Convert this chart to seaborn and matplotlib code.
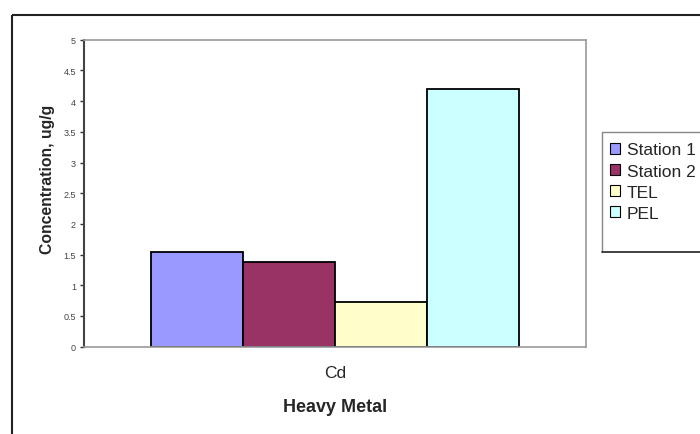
import matplotlib
matplotlib.use("Agg")
import matplotlib.pyplot as plt
from matplotlib.patches import Rectangle, Patch
from matplotlib.lines import Line2D
from matplotlib.ticker import FixedLocator, FuncFormatter
import seaborn as sns
import pandas as pd

# Cadmium concentrations and sediment quality guidelines (ug/g)
metals = ["Cd"]
series = ["Station 1", "Station 2", "TEL", "PEL"]
values = [1.55, 1.38, 0.73, 4.20]
colors = ["#9999FF", "#993366", "#FFFFCC", "#CCFFFF"]
yticks = [0, 0.5, 1, 1.5, 2, 2.5, 3, 3.5, 4, 4.5, 5]

df = pd.DataFrame({
    "metal": metals * len(series),
    "series": series,
    "value": values,
})

sns.set_theme(style="white")
plt.rcParams["font.family"] = ["Liberation Sans", "DejaVu Sans"]

W, H = 700, 435
fig = plt.figure(figsize=(W / 100, H / 100), dpi=100)
ax = fig.add_axes([84.3 / W, 1 - 347.7 / H, (586 - 84.3) / W, (347.7 - 40.7) / H])

sns.barplot(data=df, x="metal", y="value", hue="series", hue_order=series,
            palette=colors, width=0.734, dodge=True, legend=False,
            edgecolor="black", linewidth=1.3, saturation=1, ax=ax)

ax.set_xlim(-0.5, 0.5)
ax.set_ylim(0, 5)
ax.yaxis.set_major_locator(FixedLocator(yticks))
ax.yaxis.set_major_formatter(FuncFormatter(lambda v, p: f"{v:g}"))
ax.tick_params(axis="y", which="major", direction="out", length=3, width=1,
               color="#333333", labelsize=6.5, labelcolor="#444444", pad=3, left=True)
ax.tick_params(axis="x", length=0, labelsize=12.5, pad=13)

for side in ["top", "right", "bottom"]:
    ax.spines[side].set_color("#999999")
    ax.spines[side].set_linewidth(1.2)
ax.spines["left"].set_color("#444444")
ax.spines["left"].set_linewidth(1.5)

ax.set_xlabel("Heavy Metal", fontsize=13, fontweight="bold", labelpad=13)
ax.set_ylabel("Concentration, ug/g", fontsize=11.3, fontweight="bold")
ax.yaxis.set_label_coords((55 - 84.3) / (586 - 84.3), (347.7 - 179) / 307)

# legend, partially running off the right edge
handles = [Patch(facecolor=c, edgecolor="black", linewidth=0.8) for c in colors]
leg = fig.legend(handles, series, loc="upper left",
                 bbox_to_anchor=(601.7 / W, 1 - 135.5 / H),
                 fontsize=12.5, frameon=False,
                 handlelength=0.6, handleheight=0.6, handletextpad=0.4,
                 labelspacing=0.36, borderpad=0.45, borderaxespad=0)

# legend box: gray left/top edges, dark bottom edge
lx0, lx1, ly0, ly1 = 601.7, 720, 133, 253
fig.lines.append(Line2D([lx0 / W, lx0 / W, lx1 / W], [1 - ly1 / H, 1 - ly0 / H, 1 - ly0 / H],
                        transform=fig.transFigure, color="#888888", linewidth=1.0))
fig.lines.append(Line2D([lx0 / W, lx1 / W], [1 - ly1 / H, 1 - ly1 / H],
                        transform=fig.transFigure, color="#222222", linewidth=1.2))

# outer chart border
fig.patches.append(Rectangle((11.5 / W, 1 - 16 / H), 1.2, -1.2,
                             transform=fig.transFigure, fill=False,
                             edgecolor="#222222", linewidth=1.5))

fig.savefig("out.png", dpi=100)
